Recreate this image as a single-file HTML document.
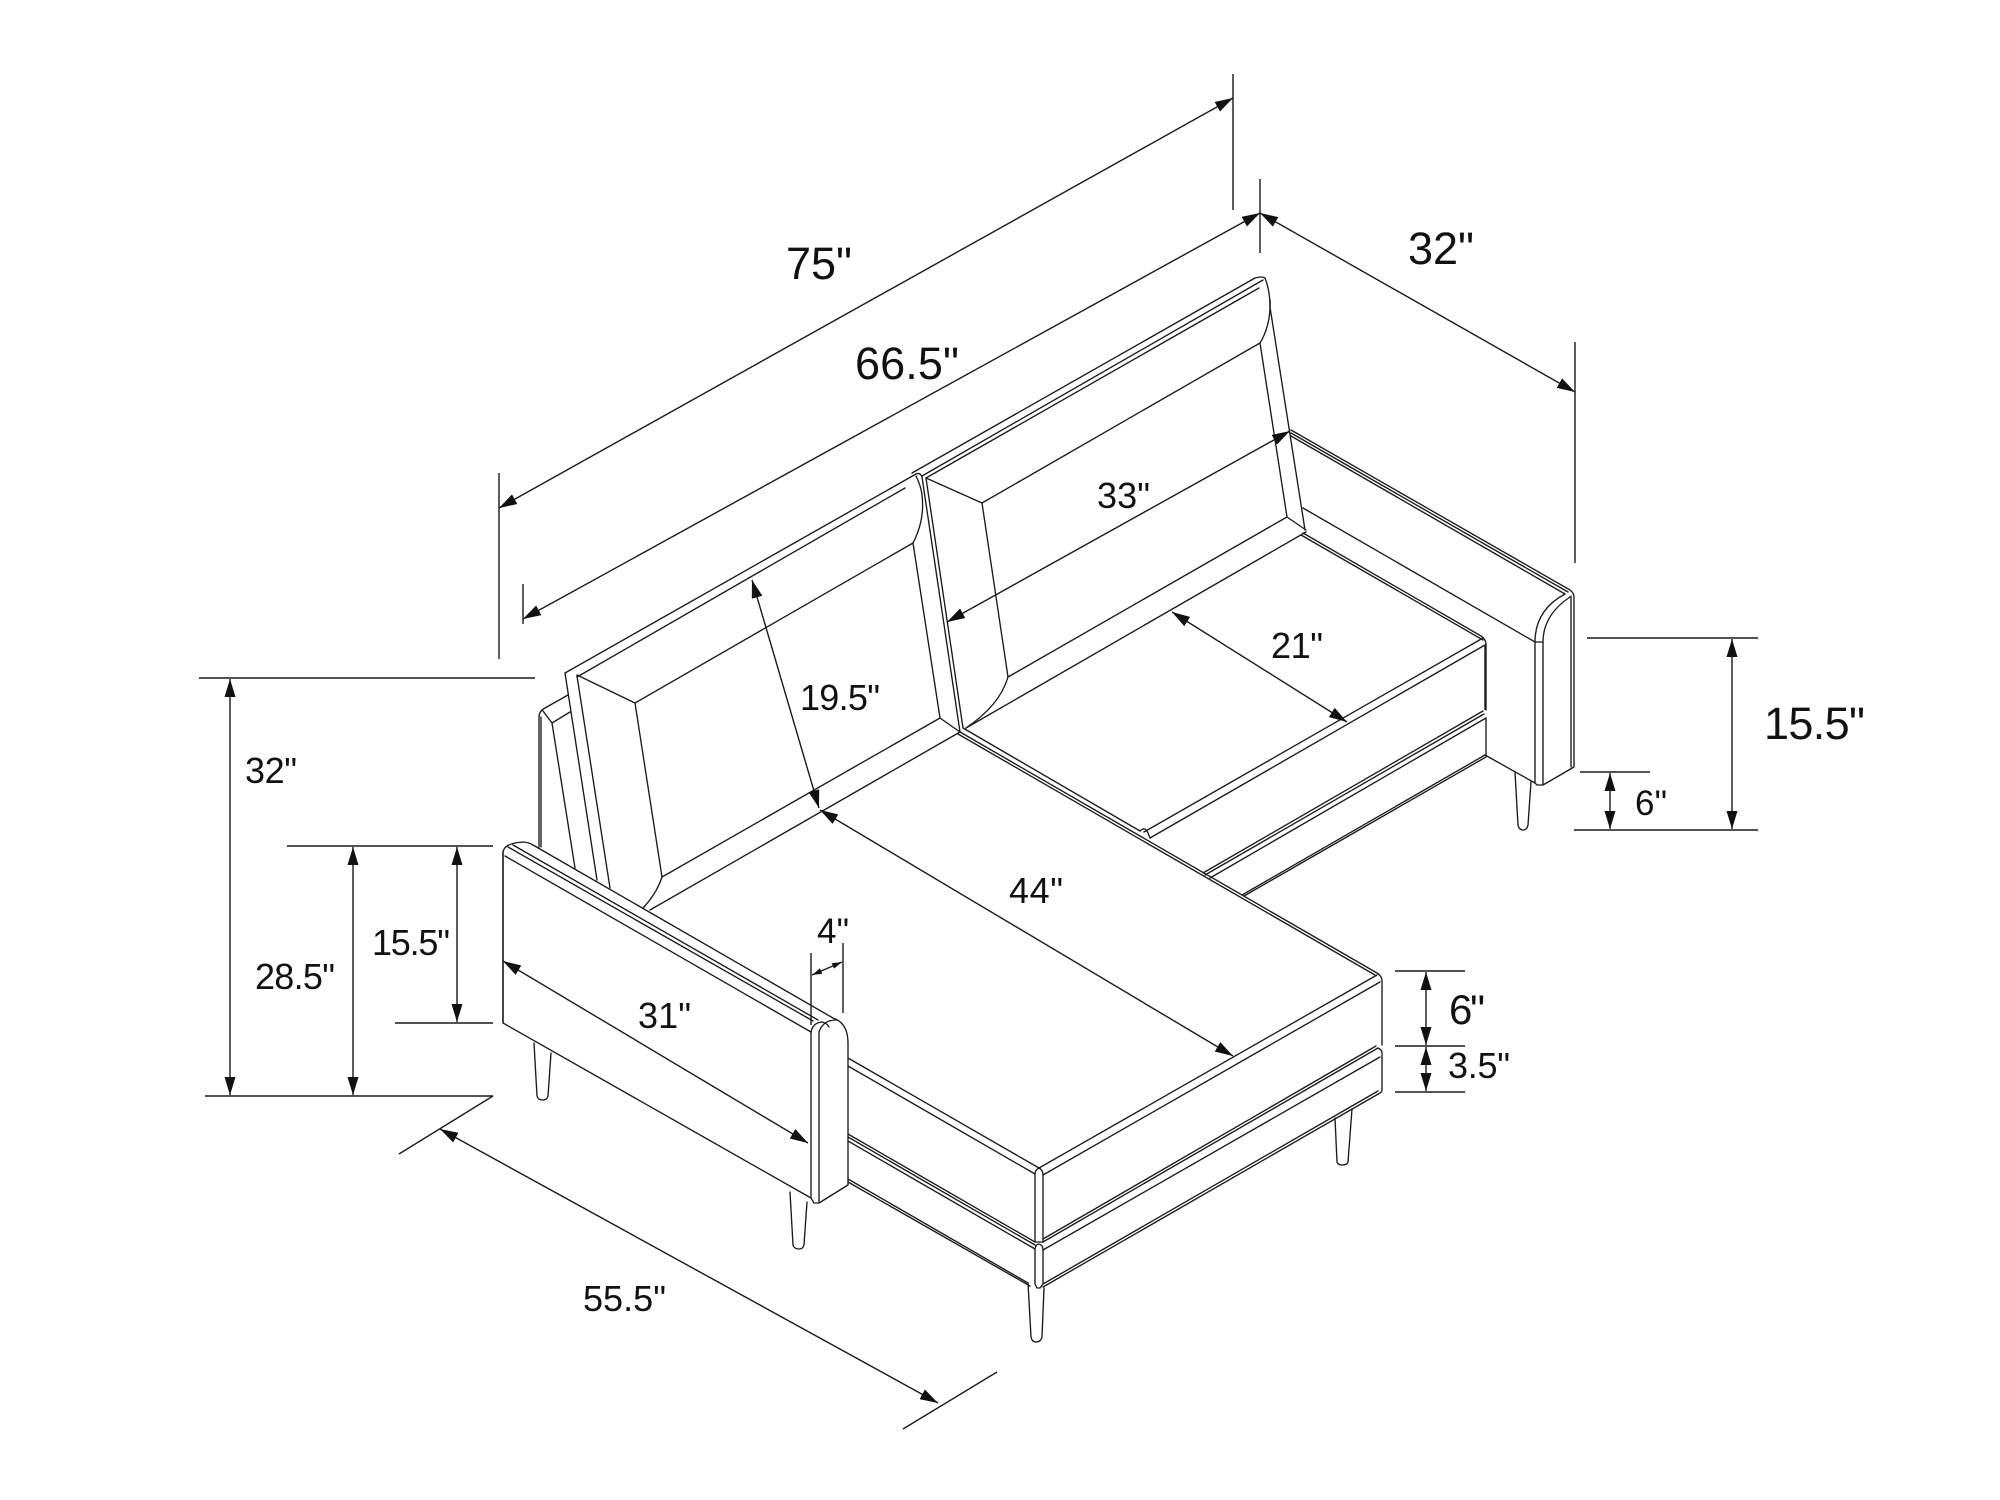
<!DOCTYPE html>
<html><head><meta charset="utf-8"><style>
html,body{margin:0;padding:0;background:#fff}
svg{display:block}
text{font-family:"Liberation Sans",sans-serif;fill:#111}
.s path,.s line{fill:none;stroke:#1a1a1a;stroke-width:1.35;stroke-linejoin:round;stroke-linecap:round}
.d line{stroke:#1a1a1a;stroke-width:1.4}
</style></head><body>
<svg width="2000" height="1500" viewBox="0 0 2000 1500" xmlns="http://www.w3.org/2000/svg">
<defs>
<marker id="a" markerUnits="userSpaceOnUse" markerWidth="18" markerHeight="11" refX="18" refY="5.5" orient="auto-start-reverse" viewBox="0 0 18 11"><path d="M18 5.5L0 0L0 11Z" fill="#111"/></marker>
<marker id="b" markerUnits="userSpaceOnUse" markerWidth="10" markerHeight="6" refX="10" refY="3" orient="auto-start-reverse" viewBox="0 0 10 6"><path d="M10 3L0 0L0 6Z" fill="#111"/></marker>
</defs>
<rect width="2000" height="1500" fill="#fff"/>
<g class="s">
<!-- rear-left arm behind cushion -->
<path d="M539 847V717Q539 711 545 708L568 695"/>
<path d="M541 847V717"/>
<path d="M543 711L552 723L570 712"/>
<path d="M552 723L575 868"/>
<!-- left back cushion -->
<path d="M565 673L916 474Q920 472 922 477"/>
<path d="M577 677L905 488"/>
<path d="M565 673L597 880"/>
<path d="M577 676L610 888"/>
<path d="M577 675L635 703L662 877Q657 893 643 908"/>
<path d="M635 703L913 543"/>
<path d="M913 543Q925 520 922 495Q921 486 916 476"/>
<path d="M913 543L940 718L960 732"/>
<path d="M662 877L940 718"/>
<path d="M650 910L960 732"/>
<!-- seam between cushions -->
<path d="M922 477L960 732"/>
<path d="M926 478L963 728"/>
<!-- right back cushion -->
<path d="M912 473L1255 278Q1262 276 1265 278"/>
<path d="M922 476L1263 280"/>
<path d="M926 478L1259 288"/>
<path d="M1265 278Q1270 290 1270 307L1305 530"/>
<path d="M1270 300Q1271 325 1260 343"/>
<path d="M926 478L982 503L1008 677Q1000 705 966 728"/>
<path d="M982 503L1260 343L1287 517"/>
<path d="M1008 677L1287 517L1306 530"/>
<path d="M966 728L1306 532"/>
<!-- right arm -->
<path d="M1291 430L1570 590Q1574 593 1574 597V767L1543 785H1537L1535 783V642"/>
<path d="M1291 433L1568 592"/>
<path d="M1291 436L1565 594"/>
<path d="M1303 508L1535 642Q1535 610 1565 594"/>
<path d="M1543 642Q1543 615 1570 597"/>
<path d="M1535 642H1543V784"/>
<path d="M1571 596V767"/>
<path d="M1485 755L1535 783"/>
<!-- right leg -->
<path d="M1515 772L1518 825Q1519 830 1523 830Q1527 830 1528 825L1531 782"/>
<!-- seat right -->
<path d="M1303 533L1481 636Q1486 639 1486 645V710"/>
<path d="M1301 535L1483 640"/>
<path d="M1486 718V755"/>
<path d="M1144 832L1483 638"/>
<path d="M1150 838L1485 645"/>
<path d="M1140 831Q1145 826 1148 833L1150 838"/>
<path d="M1203 873L1483 711"/>
<path d="M1205 875L1484 714"/>
<path d="M1210 878L1486 718"/>
<path d="M1242 895L1485 755"/>
<path d="M1244 896L1486 757"/>
<!-- chaise seat -->
<path d="M963 728L1140 831"/>
<path d="M960 732L1377 973Q1382 976 1382 981V1045"/>
<path d="M958 734L1375 975"/>
<path d="M1039 1168L1377 975"/>
<path d="M1043 1175L1380 982"/>
<path d="M848 1058L1039 1168Q1043 1170 1043 1175V1242"/>
<path d="M848 1066L1035 1174Q1035 1170 1039 1168"/>
<path d="M1035 1174V1242H1043"/>
<path d="M1043 1242L1378 1048"/>
<path d="M1043 1239L1376 1046"/>
<path d="M1043 1250L1380 1057"/>
<path d="M1378 1048Q1382 1050 1382 1053V1090Q1382 1092 1380 1093L1043 1287"/>
<path d="M1043 1284L1378 1091"/>
<path d="M848 1134L1035 1242"/>
<path d="M848 1137L1035 1245"/>
<path d="M848 1141L1035 1249"/>
<path d="M848 1179L1028 1283"/>
<path d="M848 1182L1030 1286"/>
<path d="M1035 1249Q1036 1244 1039 1244Q1043 1245 1043 1250V1284L1040 1288H1037L1035 1284V1249"/>
<!-- chaise legs -->
<path d="M1028 1283L1031 1337Q1032 1342 1036 1342Q1041 1342 1042 1337L1044 1288"/>
<path d="M1335 1118L1337 1162Q1338 1165 1342 1165Q1347 1165 1348 1162L1352 1109"/>
<!-- left arm -->
<path d="M503 852C504 846 510 843 523 842Q528 842 533 845L833 1018C845 1022 848 1033 848 1043V1185L819 1203H814L811 1198V1033"/>
<path d="M503 852V1023L811 1198"/>
<path d="M505 856L811 1032"/>
<path d="M508 847L813 1021"/>
<path d="M513 845L818 1020"/>
<path d="M811 1033Q812 1023 822 1022Q827 1023 829 1027"/>
<path d="M819 1032V1203"/>
<path d="M819 1032Q823 1020 836 1020"/>
<!-- left-arm legs -->
<path d="M534 1043L537 1096Q538 1100 543 1100Q547 1100 548 1096L551 1053"/>
<path d="M790 1192L793 1245Q794 1249 799 1249Q803 1249 804 1245L807 1202"/>
</g>
<g class="d">
<line x1="1233" y1="74" x2="1233" y2="210"/>
<line x1="499" y1="473" x2="499" y2="659"/>
<line x1="499" y1="508" x2="1233" y2="98" marker-start="url(#a)" marker-end="url(#a)"/>
<line x1="1260" y1="179" x2="1260" y2="253"/>
<line x1="523" y1="584" x2="523" y2="624"/>
<line x1="523" y1="619" x2="1260" y2="213" marker-start="url(#a)" marker-end="url(#a)"/>
<line x1="1260" y1="213" x2="1575" y2="392" marker-start="url(#a)" marker-end="url(#a)"/>
<line x1="1575" y1="342" x2="1575" y2="563" stroke-width="2"/>
<line x1="947" y1="622" x2="1290" y2="431" marker-start="url(#a)" marker-end="url(#a)"/>
<line x1="1172" y1="612" x2="1347" y2="722" marker-start="url(#a)" marker-end="url(#a)"/>
<line x1="752" y1="580" x2="819" y2="808" marker-start="url(#a)" marker-end="url(#a)"/>
<line x1="820" y1="810" x2="1233" y2="1056" marker-start="url(#a)" marker-end="url(#a)"/>
<line x1="503" y1="961" x2="808" y2="1143" marker-start="url(#a)" marker-end="url(#a)"/>
<line x1="811" y1="953" x2="811" y2="1025"/>
<line x1="843" y1="943" x2="843" y2="1013"/>
<line x1="812" y1="975" x2="842" y2="962" marker-start="url(#b)" marker-end="url(#b)"/>
<line x1="440" y1="1129" x2="938" y2="1403" marker-start="url(#a)" marker-end="url(#a)"/>
<line x1="493" y1="1096" x2="399" y2="1154"/>
<line x1="997" y1="1372" x2="903" y2="1429"/>
<line x1="199" y1="678" x2="535" y2="678"/>
<line x1="205" y1="1096" x2="493" y2="1096"/>
<line x1="287" y1="846" x2="493" y2="846"/>
<line x1="395" y1="1023" x2="493" y2="1023"/>
<line x1="230" y1="679" x2="230" y2="1095" marker-start="url(#a)" marker-end="url(#a)"/>
<line x1="353" y1="847" x2="353" y2="1095" marker-start="url(#a)" marker-end="url(#a)"/>
<line x1="457" y1="847" x2="457" y2="1022" marker-start="url(#a)" marker-end="url(#a)"/>
<line x1="1587" y1="638" x2="1758" y2="638"/>
<line x1="1574" y1="830" x2="1758" y2="830"/>
<line x1="1580" y1="772" x2="1650" y2="772"/>
<line x1="1732" y1="639" x2="1732" y2="829" marker-start="url(#a)" marker-end="url(#a)"/>
<line x1="1610" y1="773" x2="1610" y2="829" marker-start="url(#a)" marker-end="url(#a)"/>
<line x1="1395" y1="971" x2="1465" y2="971"/>
<line x1="1395" y1="1046" x2="1465" y2="1046"/>
<line x1="1395" y1="1092" x2="1465" y2="1092"/>
<line x1="1426" y1="972" x2="1426" y2="1045" marker-start="url(#a)" marker-end="url(#a)"/>
<line x1="1426" y1="1047" x2="1426" y2="1091" marker-start="url(#a)" marker-end="url(#a)"/>
<line x1="503" y1="852" x2="503" y2="1023" stroke="#555" stroke-width="2"/>
<line x1="1485" y1="645" x2="1485" y2="710" stroke="#555" stroke-width="2"/>
</g>
<g>
<text x="786" y="279" font-size="45" textLength="66">75"</text>
<text x="855" y="379" font-size="45" textLength="104">66.5"</text>
<text x="1408" y="264" font-size="45" textLength="66">32"</text>
<text x="1097" y="508" font-size="36" textLength="53">33"</text>
<text x="1271" y="658" font-size="36" textLength="52">21"</text>
<text x="800" y="710" font-size="36" textLength="80">19.5"</text>
<text x="1764" y="739" font-size="45" textLength="101">15.5"</text>
<text x="1635" y="815" font-size="35" textLength="32">6"</text>
<text x="245" y="783" font-size="36" textLength="52">32"</text>
<text x="255" y="989" font-size="36" textLength="80">28.5"</text>
<text x="372" y="955" font-size="36" textLength="78">15.5"</text>
<text x="817" y="943" font-size="35" textLength="32">4"</text>
<text x="638" y="1028" font-size="36" textLength="53">31"</text>
<text x="1009" y="903" font-size="36" textLength="54">44"</text>
<text x="1449" y="1024" font-size="42" textLength="36">6"</text>
<text x="1448" y="1078" font-size="36" textLength="62">3.5"</text>
<text x="583" y="1311" font-size="36" textLength="83">55.5"</text>
</g>
</svg>
</body></html>
